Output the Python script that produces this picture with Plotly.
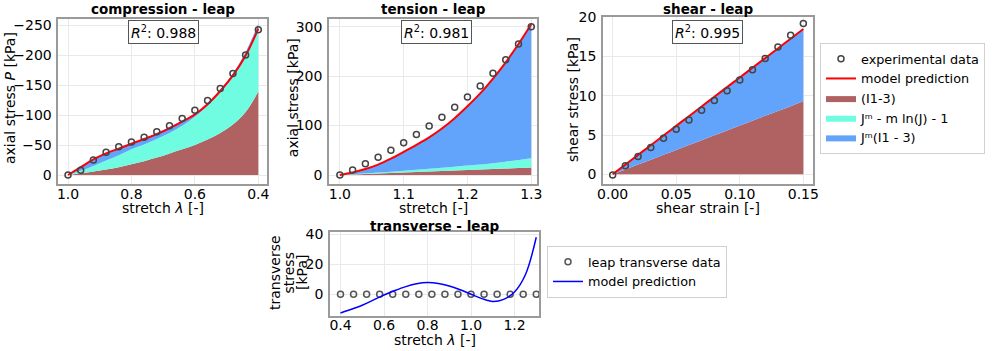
import plotly.graph_objects as go

# ---------------- data ----------------
comp_stretch = [1.00, 0.96, 0.92, 0.88, 0.84, 0.80, 0.76, 0.72, 0.68, 0.64, 0.60, 0.56, 0.52, 0.48, 0.44, 0.40]
comp_exp = [0, -8, -25, -38, -47, -55, -63, -72, -82, -94, -108, -124, -144, -169, -200, -242]
comp_model = [0, -13, -26, -36, -44, -52, -60, -68, -78, -89, -101, -118, -140, -166, -199, -244]
comp_I1 = [0, -3, -6, -9, -13, -18, -23, -29, -36, -43, -50, -59, -70, -84, -105, -139]
comp_Jm = [0, -4, -9, -15, -20, -25, -28, -31, -34, -39, -47, -56, -67, -79, -91, -100]
comp_JmI1 = [0, -6, -11, -12, -12, -10, -10, -10, -10, -8, -5, -4, -5, -6, -9, -13]
comp_yticks = [0, -50, -100, -150, -200, -250]
comp_yticktext = ["0", "\u221250", "\u2212100", "\u2212150", "\u2212200", "\u2212250"]

ten_stretch = [1.00, 1.02, 1.04, 1.06, 1.08, 1.10, 1.12, 1.14, 1.16, 1.18, 1.20, 1.22, 1.24, 1.26, 1.28, 1.30]
ten_exp = [0, 10, 23, 36, 50, 65, 82, 99, 117, 137, 158, 180, 206, 233, 265, 300]
ten_model = [0, 5, 12, 21, 33, 47, 61, 76, 94, 115, 139, 165, 195, 228, 265, 305]
ten_I1 = [0, 1, 2, 3, 4, 5, 6, 7, 8, 9, 10, 11, 12, 13, 14, 15]
ten_Jm = [0, 0.6, 1.3, 2, 2.8, 3.6, 4.5, 5.5, 6.6, 7.8, 9, 10.5, 12, 14, 16.5, 19]
ten_JmI1 = [0, 3.4, 8.7, 16, 26.2, 38.4, 50.5, 63.5, 79.4, 98.2, 120, 143.5, 171, 201, 234.5, 271]

sh_strain = [0.00, 0.01, 0.02, 0.03, 0.04, 0.05, 0.06, 0.07, 0.08, 0.09, 0.10, 0.11, 0.12, 0.13, 0.14, 0.15]
sh_exp = [-0.1, 1.1, 2.25, 3.4, 4.6, 5.75, 6.9, 8.15, 9.4, 10.65, 12.0, 13.3, 14.75, 16.2, 17.7, 19.2]
sh_model = [0, 1.23, 2.47, 3.7, 4.93, 6.17, 7.4, 8.63, 9.87, 11.1, 12.33, 13.57, 14.8, 16.03, 17.27, 18.5]
sh_I1 = [0, 0.62, 1.24, 1.86, 2.48, 3.1, 3.72, 4.34, 4.96, 5.58, 6.2, 6.82, 7.44, 8.06, 8.68, 9.3]
sh_Jm = [0] * 16
sh_JmI1 = [0, 0.61, 1.23, 1.84, 2.45, 3.07, 3.68, 4.29, 4.91, 5.52, 6.13, 6.75, 7.36, 7.97, 8.59, 9.2]

tr_data_stretch = [0.40, 0.46, 0.52, 0.58, 0.64, 0.70, 0.76, 0.82, 0.88, 0.94, 1.00, 1.06, 1.12, 1.18, 1.24, 1.30]
tr_data = [0] * 16
tr_model_stretch = [0.40, 0.45, 0.50, 0.55, 0.60, 0.65, 0.70, 0.75, 0.80, 0.85, 0.90, 0.95, 1.00,
                    1.05, 1.10, 1.15, 1.20, 1.25, 1.30]
tr_model = [-12.5, -10, -7.3, -3.9, -0.5, 2.5, 5.1, 7.0, 7.8, 7.2, 5.5, 3.0, 0.0,
            -2.9, -4.8, -3.4, 1.5, 13, 38]

r2_values = ["0.988", "0.981", "0.995"]

# ---------------- styles ----------------
FONT = "DejaVu Sans"
C_BROWN = "rgb(176,98,98)"
C_CYAN = "rgb(112,252,224)"
C_BLUE = "rgb(98,164,252)"
W, H = 996, 351

fig = go.Figure()


def px_x(p):
    return p / W


def px_y(p):
    return 1 - p / H


panels = [
    dict(xa="x", ya="y", x=comp_stretch, exp=comp_exp, model=comp_model,
         comps=[comp_I1, comp_Jm, comp_JmI1], sg="c", show=True),
    dict(xa="x2", ya="y2", x=ten_stretch, exp=ten_exp, model=ten_model,
         comps=[ten_I1, ten_Jm, ten_JmI1], sg="t", show=False),
    dict(xa="x3", ya="y3", x=sh_strain, exp=sh_exp, model=sh_model,
         comps=[sh_I1, sh_Jm, sh_JmI1], sg="s", show=False),
]
comp_names = ["(I1-3)", "J\u1d50 - m ln(J) - 1", "J\u1d50(I1 - 3)"]
comp_cols = [C_BROWN, C_CYAN, C_BLUE]

for p in panels:
    for k, (vals, nm, col) in enumerate(zip(p["comps"], comp_names, comp_cols)):
        fig.add_trace(go.Scatter(
            x=p["x"], y=vals, name=nm, stackgroup=p["sg"], mode="lines",
            line=dict(width=0, color=col, shape="spline"), fillcolor=col,
            xaxis=p["xa"], yaxis=p["ya"], showlegend=p["show"], legendrank=3 + k,
            legend="legend"))
    fig.add_trace(go.Scatter(
        x=p["x"], y=p["model"], name="model prediction", mode="lines",
        line=dict(color="red", width=2, shape="spline"),
        xaxis=p["xa"], yaxis=p["ya"], showlegend=p["show"], legendrank=2, legend="legend"))
    fig.add_trace(go.Scatter(
        x=p["x"], y=p["exp"], name="experimental data", mode="markers",
        marker=dict(symbol="circle-open", size=6, color="#444", line=dict(width=1.5)),
        xaxis=p["xa"], yaxis=p["ya"], showlegend=p["show"], legendrank=1, legend="legend"))

fig.add_trace(go.Scatter(
    x=tr_data_stretch, y=tr_data, name="leap transverse data", mode="markers",
    marker=dict(symbol="circle-open", size=6, color="#555", line=dict(width=1.5)),
    xaxis="x4", yaxis="y4", legend="legend2"))
fig.add_trace(go.Scatter(
    x=tr_model_stretch, y=tr_model, name="model prediction", mode="lines",
    line=dict(color="blue", width=1.5, shape="spline"),
    xaxis="x4", yaxis="y4", legend="legend2"))

axis_common = dict(showline=True, mirror=True, linecolor="#9a9a9a", linewidth=1.5,
                   showgrid=True, gridcolor="#e9e9e9", gridwidth=1, zeroline=False,
                   ticks="", automargin=False,
                   tickfont=dict(family=FONT, size=14, color="black"))
xax = dict(ticklabelstandoff=-4, **axis_common)
yax = dict(ticklabelstandoff=2, **axis_common)

top_y = [px_y(184), px_y(19)]
fig.update_layout(
    template="none",
    width=W, height=H, margin=dict(l=0, r=0, t=0, b=0, autoexpand=False),
    plot_bgcolor="white", paper_bgcolor="white",
    font=dict(family=FONT, size=14, color="black"),
    xaxis=dict(domain=[px_x(58.3), px_x(267)], range=[1.0306, 0.3726], dtick=0.2,
               tickformat=".1f", anchor="y", **xax),
    yaxis=dict(domain=top_y, range=[15, -260], tickmode="array", tickvals=comp_yticks,
               ticktext=comp_yticktext, anchor="x", **yax),
    xaxis2=dict(domain=[px_x(329), px_x(537)], range=[0.983, 1.309], dtick=0.1,
                tickformat=".1f", anchor="y2", **xax),
    yaxis2=dict(domain=top_y, range=[-18.2, 315.6], dtick=100, anchor="x2", **yax),
    xaxis3=dict(domain=[px_x(603), px_x(813)], range=[-0.0076, 0.1576], dtick=0.05,
                tickformat=".2f", anchor="y3", **xax),
    yaxis3=dict(domain=[px_y(184), px_y(16.5)], range=[-1.24, 20.1], dtick=5,
                anchor="x3", **yax),
    xaxis4=dict(domain=[px_x(330), px_x(539)], range=[0.3517, 1.3126], dtick=0.2,
                tickformat=".1f", anchor="y4", **xax),
    yaxis4=dict(domain=[px_y(315.7), px_y(232.3)], range=[-14.3, 41.3], dtick=20,
                anchor="x4", **yax),
    legend=dict(x=px_x(820), y=px_y(43), xanchor="left", yanchor="top",
                bordercolor="#d0d0d0", borderwidth=1, bgcolor="white",
                font=dict(family=FONT, size=12.8), itemwidth=30, tracegroupgap=0,
                traceorder="normal"),
    legend2=dict(x=px_x(547), y=px_y(246), xanchor="left", yanchor="top",
                 bordercolor="#d0d0d0", borderwidth=1, bgcolor="white",
                 font=dict(family=FONT, size=12.8), itemwidth=30),
)

ann = []


def text_ann(txt, xp, yp, size=14, angle=0, bold=False):
    if bold:
        txt = "<b>" + txt + "</b>"
    ann.append(dict(text=txt, x=px_x(xp), y=px_y(yp), xref="paper", yref="paper",
                    xanchor="center", yanchor="middle", showarrow=False, textangle=angle,
                    font=dict(family=FONT, size=size, color="black")))


# panel titles
text_ann("compression - leap", 162.5, 9, size=13.5, bold=True)
text_ann("tension - leap", 433, 9, size=13.5, bold=True)
text_ann("shear - leap", 708, 9, size=13.5, bold=True)
text_ann("transverse - leap", 434.5, 226, size=13.5, bold=True)
# x titles
text_ann("stretch <i>λ</i> [-]", 162.5, 208)
text_ann("stretch [-]", 433, 208)
text_ann("shear strain [-]", 708, 208)
text_ann("stretch <i>λ</i> [-]", 434.5, 340)
# y titles
text_ann("axial stress <i>P</i> [kPa]", 10, 98, angle=-90)
text_ann("axial stress [kPa]", 292.7, 97.5, angle=-90)
text_ann("shear stress [kPa]", 573, 100, angle=-90)
text_ann("transverse", 275, 273, angle=-90)
text_ann("stress", 288.5, 273, angle=-90)
text_ann("[kPa]", 302, 273, angle=-90)

# R2 boxes
for cx, r2 in zip([163.5, 436, 707.5], r2_values):
    ann.append(dict(text="<i>R</i><sup>2</sup>: " + r2, x=px_x(cx), y=px_y(31.5),
                    xref="paper", yref="paper", xanchor="center", yanchor="middle",
                    showarrow=False, bgcolor="white", bordercolor="#555", borderwidth=1,
                    borderpad=2, font=dict(family=FONT, size=14, color="black")))

fig.update_layout(annotations=ann)
fig.write_html("out.html", config={"displayModeBar": False},
               post_script="document.body.style.margin='0';document.body.style.overflow='hidden';")
